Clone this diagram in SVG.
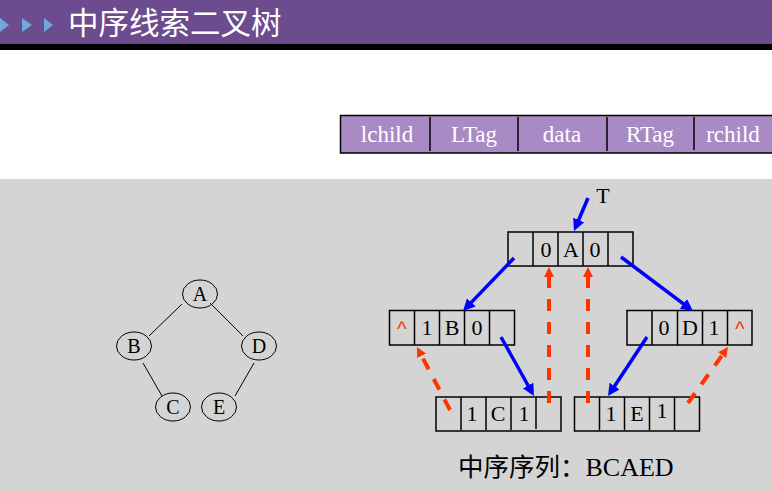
<svg xmlns="http://www.w3.org/2000/svg" width="772" height="491" viewBox="0 0 772 491">
<style>
.cell{fill:none;stroke:#000;stroke-width:1.5}
.div{stroke:#000;stroke-width:1.5}
.t{font-family:"Liberation Serif","Times New Roman",serif;font-size:22px;fill:#000;text-anchor:middle}
.hat{font-family:"Liberation Sans",Arial,sans-serif;font-size:20px;fill:#ff3300;text-anchor:middle}
.th{font-family:"Liberation Serif","Times New Roman",serif;font-size:23px;fill:#fff;text-anchor:middle}
.tn{fill:none;stroke:#000;stroke-width:1}
.tl{font-family:"Liberation Serif","Times New Roman",serif;font-size:20px;fill:#000;text-anchor:middle}
.blue{stroke:#0000ff;stroke-width:3.5;fill:none;marker-end:url(#ab)}
.red{stroke:#ff3300;stroke-width:4;fill:none;stroke-dasharray:12 11;marker-end:url(#ar)}
.edge{stroke:#000;stroke-width:1}
</style>
<defs>
<marker id="ab" viewBox="0 0 12 12" refX="8" refY="6" markerWidth="12" markerHeight="12" markerUnits="userSpaceOnUse" orient="auto"><path d="M0,0 L12,6 L0,12 z" fill="#0000ff"/></marker>
<marker id="ar" viewBox="0 0 10 10" refX="5" refY="5" markerWidth="10" markerHeight="10" markerUnits="userSpaceOnUse" orient="auto"><path d="M0,0 L10,5 L0,10 z" fill="#ff3300"/></marker>
</defs>
<rect x="0" y="0" width="772" height="491" fill="#fff"/>
<g id="header">
<rect x="0" y="0" width="772" height="43.5" fill="#6c4b8f"/>
<rect x="0" y="43.5" width="772" height="6.5" fill="#000"/>
<polygon points="0,18 9,25 0,32" fill="#6fa8dc"/>
<polygon points="22,18 32,25 22,32" fill="#6fa8dc"/>
<polygon points="44,18 53,25 44,32" fill="#6fa8dc"/>
<text x="68" y="33.5" font-family="'Noto Sans CJK SC',sans-serif" font-size="30.5" fill="#fff">中序线索二叉树</text>
</g>
<g id="field-table">
<rect x="340.5" y="115.5" width="440" height="37.5" fill="#a88bc4" stroke="#000" stroke-width="1.5"/>
<line class="div" x1="430" y1="117" x2="430" y2="151"/>
<line class="div" x1="518" y1="117" x2="518" y2="151"/>
<line class="div" x1="607" y1="117" x2="607" y2="151"/>
<line class="div" x1="694" y1="117" x2="694" y2="150"/>
<text class="th" x="387" y="142">lchild</text>
<text class="th" x="474" y="142">LTag</text>
<text class="th" x="562" y="142">data</text>
<text class="th" x="650" y="142">RTag</text>
<text class="th" x="733" y="142">rchild</text>
</g>
<rect x="0" y="179" width="772" height="312" fill="#d4d4d4"/>
<g id="tree">
<line class="edge" x1="182" y1="304" x2="149" y2="336"/>
<line class="edge" x1="210" y1="303" x2="243" y2="336"/>
<line class="edge" x1="143" y1="363" x2="162" y2="396"/>
<line class="edge" x1="254" y1="363" x2="235" y2="396"/>
<g id="tA"><ellipse class="tn" cx="200" cy="294" rx="17.5" ry="14"/><text class="tl" x="200" y="301">A</text></g>
<g id="tB"><ellipse class="tn" cx="134" cy="346" rx="17.5" ry="14"/><text class="tl" x="134" y="353">B</text></g>
<g id="tD"><ellipse class="tn" cx="259" cy="346" rx="17.5" ry="14"/><text class="tl" x="259" y="353">D</text></g>
<g id="tC"><ellipse class="tn" cx="173" cy="407" rx="17.5" ry="14"/><text class="tl" x="173" y="414">C</text></g>
<g id="tE"><ellipse class="tn" cx="219" cy="407" rx="17.5" ry="14"/><text class="tl" x="219" y="414">E</text></g>
</g>
<g id="nodeA">
<rect class="cell" x="508" y="232" width="125" height="34"/>
<line class="div" x1="533" y1="232" x2="533" y2="266"/>
<line class="div" x1="558" y1="232" x2="558" y2="266"/>
<line class="div" x1="583" y1="232" x2="583" y2="266"/>
<line class="div" x1="608" y1="232" x2="608" y2="266"/>
<text class="t" x="546" y="257">0</text>
<text class="t" x="571" y="257">A</text>
<text class="t" x="595" y="257">0</text>
</g>
<g id="nodeB">
<rect class="cell" x="389.5" y="310.5" width="125" height="34.5"/>
<line class="div" x1="414.5" y1="310.5" x2="414.5" y2="345"/>
<line class="div" x1="439.5" y1="310.5" x2="439.5" y2="345"/>
<line class="div" x1="464.5" y1="310.5" x2="464.5" y2="345"/>
<line class="div" x1="489.5" y1="310.5" x2="489.5" y2="345"/>
<text class="hat" x="402" y="336">^</text>
<text class="t" x="427" y="335">1</text>
<text class="t" x="452" y="335">B</text>
<text class="t" x="477" y="335">0</text>
</g>
<g id="nodeD">
<rect class="cell" x="627" y="310.5" width="125" height="34.5"/>
<line class="div" x1="652" y1="310.5" x2="652" y2="345"/>
<line class="div" x1="677.5" y1="310.5" x2="677.5" y2="345"/>
<line class="div" x1="702.5" y1="310.5" x2="702.5" y2="345"/>
<line class="div" x1="727.5" y1="310.5" x2="727.5" y2="345"/>
<text class="t" x="664" y="335">0</text>
<text class="t" x="690" y="335">D</text>
<text class="t" x="714" y="335">1</text>
<text class="hat" x="740" y="336">^</text>
</g>
<g id="nodeC">
<rect class="cell" x="436" y="397" width="125" height="34"/>
<line class="div" x1="461" y1="397" x2="461" y2="430"/>
<line class="div" x1="486" y1="397" x2="486" y2="430"/>
<line class="div" x1="511" y1="397" x2="511" y2="430"/>
<line class="div" x1="536" y1="397" x2="536" y2="429"/>
<text class="t" x="472" y="421">1</text>
<text class="t" x="498" y="421">C</text>
<text class="t" x="524" y="421">1</text>
</g>
<g id="nodeE">
<rect class="cell" x="574.5" y="397" width="125" height="34"/>
<line class="div" x1="599.5" y1="397" x2="599.5" y2="430"/>
<line class="div" x1="624.5" y1="397" x2="624.5" y2="430"/>
<line class="div" x1="649.5" y1="397" x2="649.5" y2="430"/>
<line class="div" x1="674.5" y1="397" x2="674.5" y2="430"/>
<text class="t" x="611" y="421">1</text>
<text class="t" x="637" y="421">E</text>
<text class="t" x="662" y="418">1</text>
</g>
<g id="connectors">
<line class="blue" x1="588" y1="198" x2="575.6" y2="227.3"/>
<line class="blue" x1="514" y1="258" x2="465.8" y2="308.1"/>
<line class="blue" x1="621" y1="257" x2="689.8" y2="308.6"/>
<line class="blue" x1="501" y1="337" x2="532" y2="392.5"/>
<line class="blue" x1="647" y1="337" x2="610.2" y2="392.7"/>
<line class="red" x1="549" y1="403" x2="549" y2="272"/>
<line class="red" x1="588" y1="403" x2="588" y2="272"/>
<line class="red" x1="450" y1="410" x2="419.3" y2="351.4"/>
<line class="red" x1="688" y1="403" x2="725.1" y2="351.1"/>
</g>
<text x="603" y="203" class="t">T</text>
<text x="458" y="476" fill="#000"><tspan font-family="'Noto Sans CJK SC',sans-serif" font-size="25.5">中序序列：</tspan><tspan font-family="'Liberation Serif','Times New Roman',serif" font-size="26">BCAED</tspan></text>
</svg>
